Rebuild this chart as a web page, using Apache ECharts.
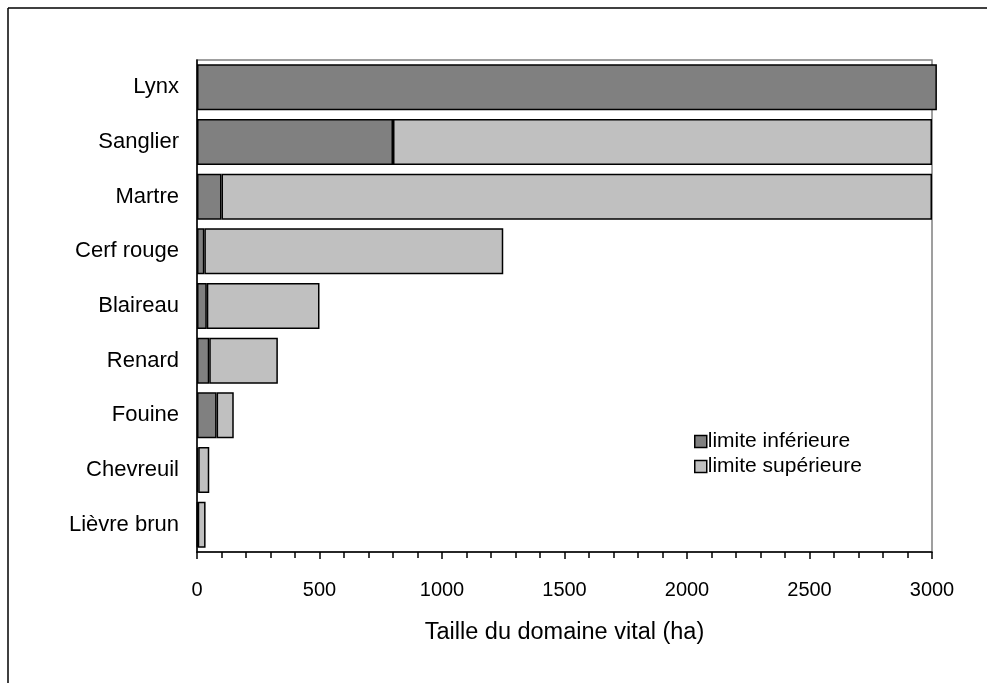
<!DOCTYPE html>
<html>
<head>
<meta charset="utf-8">
<script src="https://cdn.jsdelivr.net/npm/echarts@6/dist/echarts.min.js"></script>
<style>
  html, body { margin: 0; padding: 0; background: #fff; }
  #chart { width: 987px; height: 683px; }
</style>
</head>
<body>
<div id="chart"></div>
<script>
// Home-range size per species (ha): lower and upper bounds
const species = ['Lynx', 'Sanglier', 'Martre', 'Cerf rouge', 'Blaireau', 'Renard', 'Fouine', 'Chevreuil', 'Lièvre brun'];
const lowerLimit = [3020, 800, 100, 30, 40, 50, 80, 5, 3];
const upperLimit = [null, 3000, 3000, 1250, 500, 330, 150, 50, 35];
const seriesNames = ['limite inférieure', 'limite supérieure'];
const xTicks = [0, 500, 1000, 1500, 2000, 2500, 3000];

// the light segment is stacked on top of the dark one, so it spans lower -> upper
const upperSegment = upperLimit.map((u, i) => (u == null ? null : u - lowerLimit[i]));

const font = 'Liberation Sans, Arial, sans-serif';
const chart = echarts.init(document.getElementById('chart'), null, { renderer: 'canvas' });

chart.setOption({
  animation: false,
  backgroundColor: '#ffffff',
  textStyle: { fontFamily: font },
  graphic: [
    // outer frame (top and left edges)
    { type: 'line', shape: { x1: 8, y1: 8, x2: 987, y2: 8 }, style: { stroke: '#000', lineWidth: 1.5 } },
    { type: 'line', shape: { x1: 8, y1: 8, x2: 8, y2: 683 }, style: { stroke: '#000', lineWidth: 1.5 } }
  ],
  grid: {
    left: 197, right: 55, top: 60, bottom: 131,
    show: true, borderColor: '#808080', borderWidth: 1.5, backgroundColor: 'transparent'
  },
  legend: {
    left: 689, top: 426,
    orient: 'vertical',
    itemWidth: 12, itemHeight: 12, itemGap: 4,
    icon: 'rect',
    data: seriesNames,
    textStyle: { fontFamily: font, fontSize: 21, color: '#000', padding: [0, 0, 0, -4] },
    itemStyle: { borderColor: '#000', borderWidth: 1.5 }
  },
  xAxis: {
    type: 'value',
    min: 0, max: 3000, interval: 500,
    axisLine: { show: true, lineStyle: { color: '#000', width: 1.5 } },
    axisTick: { show: true, length: 7, lineStyle: { color: '#000', width: 1.5 } },
    minorTick: { show: true, splitNumber: 5, length: 6, lineStyle: { color: '#000', width: 1.5 } },
    splitLine: { show: false },
    axisLabel: {
      margin: 28, fontSize: 20, color: '#000', fontFamily: font,
      formatter: v => (xTicks.includes(v) ? String(v) : '')
    },
    name: 'Taille du domaine vital (ha)',
    nameLocation: 'middle',
    nameGap: 69,
    nameTextStyle: { fontSize: 23.5, color: '#000', fontFamily: font }
  },
  yAxis: {
    type: 'category',
    data: species,
    inverse: true,
    axisLine: { show: true, lineStyle: { color: '#000', width: 1.5 } },
    axisTick: { show: false },
    axisLabel: { margin: 18, fontSize: 22, color: '#000', fontFamily: font }
  },
  series: [
    {
      name: seriesNames[0],
      type: 'bar',
      stack: 'range',
      data: lowerLimit,
      barCategoryGap: '16%',
      clip: false,
      itemStyle: { color: '#808080', borderColor: '#000', borderWidth: 1.5 }
    },
    {
      name: seriesNames[1],
      type: 'bar',
      stack: 'range',
      data: upperSegment,
      barCategoryGap: '16%',
      clip: false,
      itemStyle: { color: '#c0c0c0', borderColor: '#000', borderWidth: 1.5 }
    }
  ]
});
</script>
</body>
</html>
